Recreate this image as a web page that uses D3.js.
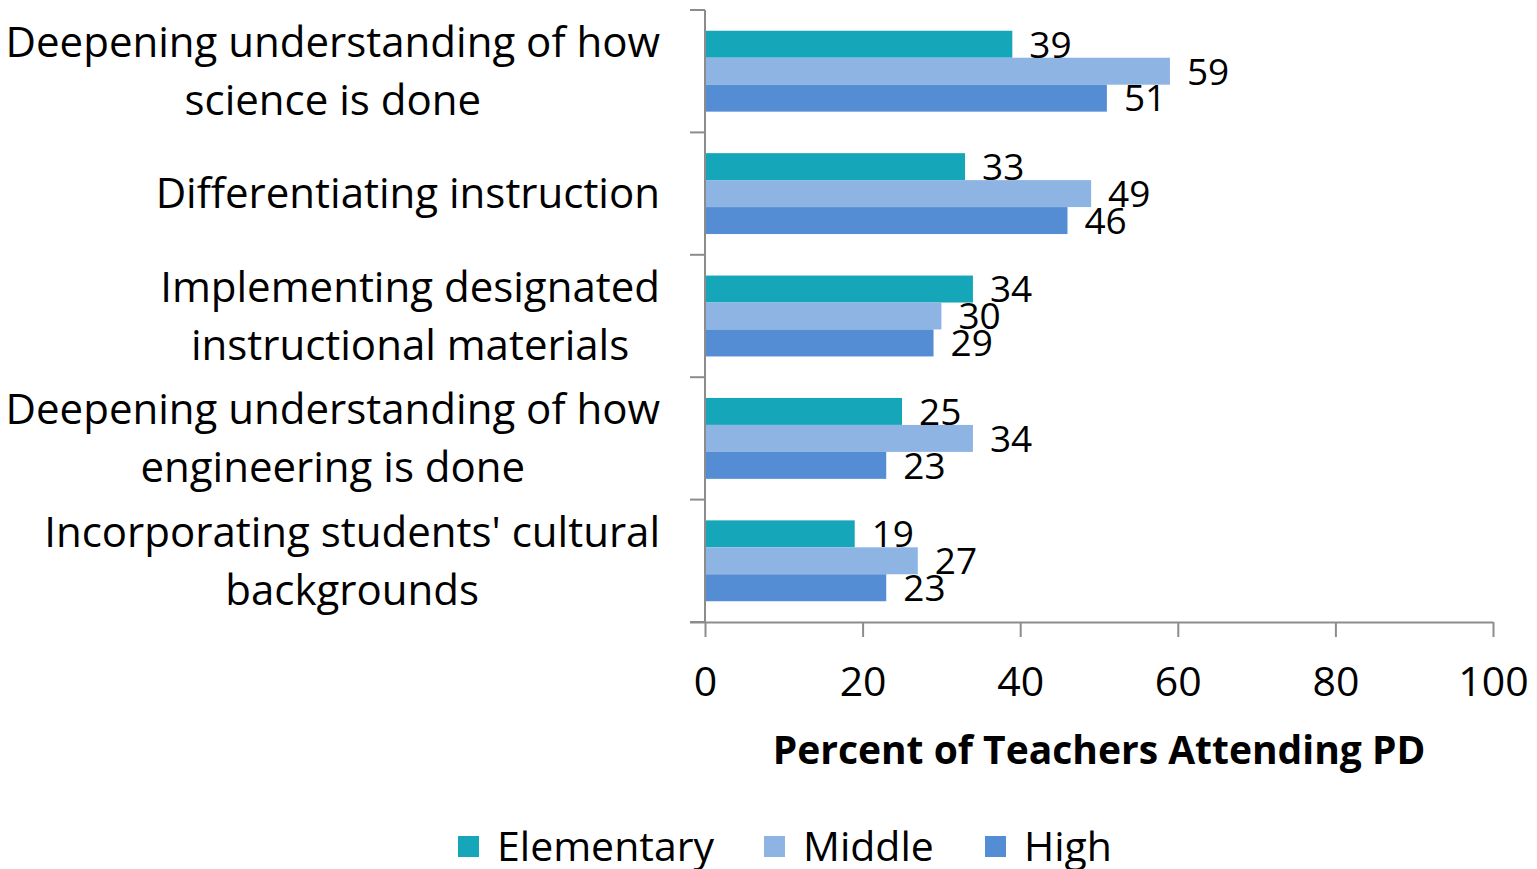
<!DOCTYPE html>
<html>
<head>
<meta charset="utf-8">
<script src="https://cdn.jsdelivr.net/npm/d3@7"></script>
<style>
  body { margin: 0; background: #fff; }
  svg { display: block; font-family: "Open Sans", Lato, sans-serif; }
</style>
</head>
<body>
<div id="chart"></div>
<script>
const categories = [
  "Deepening understanding of how\nscience is done",
  "Differentiating instruction",
  "Implementing designated\ninstructional materials",
  "Deepening understanding of how\nengineering is done",
  "Incorporating students' cultural\nbackgrounds"
];
const seriesNames = ["Elementary", "Middle", "High"];
const elementary = [39, 33, 34, 25, 19];
const middle = [59, 49, 30, 34, 27];
const high = [51, 46, 29, 23, 23];
const xTicks = [0, 20, 40, 60, 80, 100];
const colors = ["#15a6ba", "#8db4e2", "#548dd4"];

const width = 1537, height = 869;
const marginLeft = 705, marginRight = 44, marginTop = 10, plotBottom = 622;
const font = "'Open Sans', Lato, sans-serif";

const rows = categories.map((c, i) => ({
  name: c,
  values: [elementary[i], middle[i], high[i]]
}));

const svg = d3.select("#chart").append("svg")
  .attr("width", width)
  .attr("height", height)
  .attr("viewBox", [0, 0, width, height]);

const x = d3.scaleLinear()
  .domain([0, 100])
  .range([marginLeft, width - marginRight]);

const y = d3.scaleBand()
  .domain(categories)
  .range([marginTop, plotBottom])
  .paddingInner(0)
  .paddingOuter(0);

const inner = d3.scaleBand()
  .domain(seriesNames)
  .range([0, y.bandwidth()])
  .paddingOuter(0.77)
  .paddingInner(0);

// bars
const groups = svg.append("g")
  .selectAll("g")
  .data(rows)
  .join("g")
  .attr("transform", d => `translate(0,${y(d.name)})`);

groups.selectAll("rect")
  .data(d => d.values.map((v, j) => ({key: seriesNames[j], v, j})))
  .join("rect")
  .attr("x", x(0))
  .attr("y", d => inner(d.key))
  .attr("width", d => x(d.v) - x(0))
  .attr("height", inner.bandwidth())
  .attr("fill", d => colors[d.j]);

groups.selectAll("text.val")
  .data(d => d.values.map((v, j) => ({key: seriesNames[j], v, j})))
  .join("text")
  .attr("class", "val")
  .attr("x", d => x(d.v) + 17)
  .attr("y", d => inner(d.key) + inner.bandwidth() / 2)
  .attr("dy", "0.36em")
  .attr("font-size", 37)
  .attr("fill", "#000")
  .text(d => d.v);

// y axis
const yAxis = svg.append("g")
  .attr("stroke", "#8c8c8c")
  .attr("stroke-width", 2);
yAxis.append("line")
  .attr("x1", x(0)).attr("x2", x(0))
  .attr("y1", marginTop).attr("y2", plotBottom);
yAxis.selectAll("line.tk")
  .data(categories.concat(["end"]))
  .join("line")
  .attr("class", "tk")
  .attr("x1", x(0) - 15).attr("x2", x(0))
  .attr("y1", d => d === "end" ? plotBottom : y(d))
  .attr("y2", d => d === "end" ? plotBottom : y(d));

// x axis
svg.append("g")
  .attr("transform", `translate(0,${plotBottom})`)
  .call(d3.axisBottom(x).tickValues(xTicks).tickSize(15).tickPadding(30))
  .call(g => g.select(".domain").attr("stroke", "#8c8c8c").attr("stroke-width", 2)
    .attr("d", `M${x(0) - 15},0.5H${x(100)}`))
  .call(g => g.selectAll(".tick line").attr("stroke", "#8c8c8c").attr("stroke-width", 2))
  .call(g => g.selectAll(".tick text")
    .attr("font-size", 41)
    .attr("font-family", font)
    .attr("fill", "#000"));

// x axis title
svg.append("text")
  .attr("x", 1099)
  .attr("y", 764)
  .attr("text-anchor", "middle")
  .attr("font-size", 39)
  .attr("font-weight", "bold")
  .attr("fill", "#000")
  .text("Percent of Teachers Attending PD");

// category labels
const labelRight = 660;
const labels = svg.append("g")
  .selectAll("g")
  .data(categories)
  .join("g");
labels.each(function(c) {
  const g = d3.select(this);
  const lines = c.split("\n");
  const lh = 58;
  const cy = y(c) + y.bandwidth() / 2;
  const t = g.selectAll("text").data(lines).join("text")
    .attr("y", (l, i) => cy + (i - (lines.length - 1) / 2) * lh)
    .attr("dy", "0.35em")
    .attr("font-size", 42)
    .attr("fill", "#000")
    .attr("text-anchor", "middle")
    .text(l => l);
  const maxW = d3.max(t.nodes(), n => n.getComputedTextLength());
  t.attr("x", labelRight - maxW / 2);
});

// legend
const legendItems = [
  {name: seriesNames[0], sx: 458},
  {name: seriesNames[1], sx: 764},
  {name: seriesNames[2], sx: 985}
];
const legend = svg.append("g")
  .selectAll("g")
  .data(legendItems)
  .join("g")
  .attr("transform", d => `translate(${d.sx},836)`);
legend.append("rect")
  .attr("width", 21).attr("height", 21)
  .attr("fill", (d, i) => colors[i]);
legend.append("text")
  .attr("x", 39)
  .attr("y", 10.5)
  .attr("dy", "0.36em")
  .attr("font-size", 41)
  .attr("fill", "#000")
  .text(d => d.name);
</script>
</body>
</html>
